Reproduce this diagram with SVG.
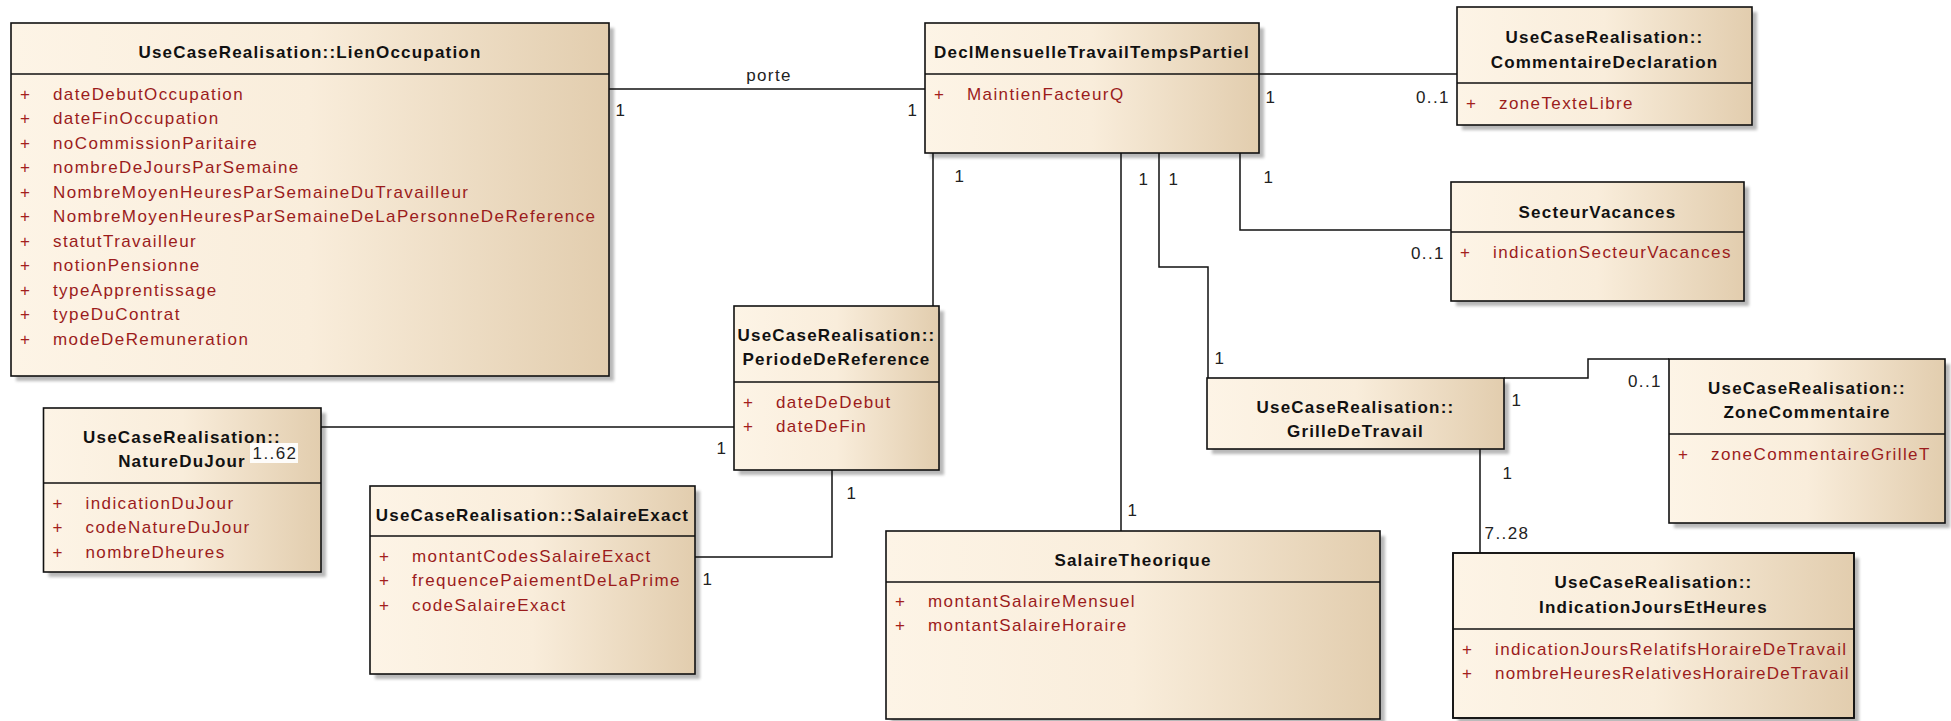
<svg xmlns="http://www.w3.org/2000/svg" width="1951" height="721" viewBox="0 0 1951 721">
<style>
.box{fill:url(#cls);stroke:#111;stroke-width:1.6}
.sh{fill:#b8b8b8;filter:url(#blur)}
.sep{stroke:#111;stroke-width:1.6}
.t{font-family:"Liberation Sans",Arial,sans-serif;font-size:17px;font-weight:bold;fill:#111;text-anchor:middle;letter-spacing:1.2px}
.a{font-family:"Liberation Sans",Arial,sans-serif;font-size:17px;fill:#9b1c1c;letter-spacing:1.4px}
.p{font-family:"Liberation Sans",Arial,sans-serif;font-size:17px;fill:#a3201c;text-anchor:middle}
.m{font-family:"Liberation Sans",Arial,sans-serif;font-size:17px;fill:#222;text-anchor:middle;letter-spacing:1.4px}
.c{fill:none;stroke:#111;stroke-width:1.5}
</style>
<defs>
<linearGradient id="cls" x1="0" y1="0" x2="1" y2="0">
<stop offset="0" stop-color="#fdf4e6"/>
<stop offset="0.5" stop-color="#f9eddb"/>
<stop offset="1" stop-color="#e2cdae"/>
</linearGradient>
<filter id="blur" x="-5%" y="-5%" width="110%" height="110%"><feGaussianBlur stdDeviation="1.5"/></filter>
<clipPath id="clipInd"><rect x="1453" y="553" width="400" height="165"/></clipPath>
</defs>
<rect width="1951" height="721" fill="#fff"/>

<g id="LienOccupation">
<rect class="sh" x="16" y="28" width="598" height="353"/>
<rect class="box" x="11" y="23" width="598" height="353"/>
<line class="sep" x1="11" y1="74" x2="609" y2="74"/>
<text class="t" x="310" y="58">UseCaseRealisation::LienOccupation</text>
<text class="p" x="25" y="99.5">+</text><text class="a" x="53" y="99.5">dateDebutOccupation</text>
<text class="p" x="25" y="124">+</text><text class="a" x="53" y="124">dateFinOccupation</text>
<text class="p" x="25" y="148.5">+</text><text class="a" x="53" y="148.5">noCommissionParitaire</text>
<text class="p" x="25" y="173">+</text><text class="a" x="53" y="173">nombreDeJoursParSemaine</text>
<text class="p" x="25" y="197.5">+</text><text class="a" x="53" y="197.5">NombreMoyenHeuresParSemaineDuTravailleur</text>
<text class="p" x="25" y="222">+</text><text class="a" x="53" y="222">NombreMoyenHeuresParSemaineDeLaPersonneDeReference</text>
<text class="p" x="25" y="246.5">+</text><text class="a" x="53" y="246.5">statutTravailleur</text>
<text class="p" x="25" y="271">+</text><text class="a" x="53" y="271">notionPensionne</text>
<text class="p" x="25" y="295.5">+</text><text class="a" x="53" y="295.5">typeApprentissage</text>
<text class="p" x="25" y="320">+</text><text class="a" x="53" y="320">typeDuContrat</text>
<text class="p" x="25" y="344.5">+</text><text class="a" x="53" y="344.5">modeDeRemuneration</text>
</g>

<g id="DeclMensuelleTravailTempsPartiel">
<rect class="sh" x="930" y="28" width="334" height="130"/>
<rect class="box" x="925" y="23" width="334" height="130"/>
<line class="sep" x1="925" y1="74" x2="1259" y2="74"/>
<text class="t" x="1092" y="58">DeclMensuelleTravailTempsPartiel</text>
<text class="p" x="939" y="99.5">+</text><text class="a" x="967" y="99.5">MaintienFacteurQ</text>
</g>

<g id="CommentaireDeclaration">
<rect class="sh" x="1462" y="12" width="295" height="118"/>
<rect class="box" x="1457" y="7" width="295" height="118"/>
<line class="sep" x1="1457" y1="83" x2="1752" y2="83"/>
<text class="t" x="1604.5" y="43">UseCaseRealisation::</text>
<text class="t" x="1604.5" y="68">CommentaireDeclaration</text>
<text class="p" x="1471" y="108.5">+</text><text class="a" x="1499" y="108.5">zoneTexteLibre</text>
</g>

<g id="SecteurVacances">
<rect class="sh" x="1456" y="187" width="293" height="119"/>
<rect class="box" x="1451" y="182" width="293" height="119"/>
<line class="sep" x1="1451" y1="232" x2="1744" y2="232"/>
<text class="t" x="1597.5" y="217.5">SecteurVacances</text>
<text class="p" x="1465" y="258">+</text><text class="a" x="1493" y="258">indicationSecteurVacances</text>
</g>

<g id="ZoneCommentaire">
<rect class="sh" x="1674" y="364" width="276" height="164"/>
<rect class="box" x="1669" y="359" width="276" height="164"/>
<line class="sep" x1="1669" y1="434" x2="1945" y2="434"/>
<text class="t" x="1807" y="394">UseCaseRealisation::</text>
<text class="t" x="1807" y="418">ZoneCommentaire</text>
<text class="p" x="1683" y="459.5">+</text><text class="a" x="1711" y="459.5">zoneCommentaireGrilleT</text>
</g>

<g id="GrilleDeTravail">
<rect class="sh" x="1212" y="383" width="297" height="71"/>
<rect class="box" x="1207" y="378" width="297" height="71"/>
<text class="t" x="1355.5" y="413">UseCaseRealisation::</text>
<text class="t" x="1355.5" y="437">GrilleDeTravail</text>
</g>

<g id="IndicationJoursEtHeures">
<rect class="sh" x="1458" y="558" width="401" height="165"/>
<rect class="box" x="1453" y="553" width="401" height="165"/>
<line class="sep" x1="1453" y1="629" x2="1854" y2="629"/>
<text class="t" x="1653.5" y="588">UseCaseRealisation::</text>
<text class="t" x="1653.5" y="613">IndicationJoursEtHeures</text>
<g clip-path="url(#clipInd)">
<text class="p" x="1467" y="654.5">+</text><text class="a" x="1495" y="654.5">indicationJoursRelatifsHoraireDeTravail</text>
<text class="p" x="1467" y="679">+</text><text class="a" x="1495" y="679" style="letter-spacing:1.2px">nombreHeuresRelativesHoraireDeTravail</text>
</g>
<rect x="1453" y="553" width="401" height="165" fill="none" stroke="#111" stroke-width="1.6"/>
</g>

<g id="PeriodeDeReference">
<rect class="sh" x="739" y="311" width="205" height="164"/>
<rect class="box" x="734" y="306" width="205" height="164"/>
<line class="sep" x1="734" y1="382" x2="939" y2="382"/>
<text class="t" x="836.5" y="341">UseCaseRealisation::</text>
<text class="t" x="836.5" y="365">PeriodeDeReference</text>
<text class="p" x="748" y="407.5">+</text><text class="a" x="776" y="407.5">dateDeDebut</text>
<text class="p" x="748" y="432">+</text><text class="a" x="776" y="432">dateDeFin</text>
</g>

<g id="NatureDuJour">
<rect class="sh" x="48.5" y="413" width="277.5" height="164"/>
<rect class="box" x="43.5" y="408" width="277.5" height="164"/>
<line class="sep" x1="43.5" y1="483" x2="321" y2="483"/>
<text class="t" x="182" y="443">UseCaseRealisation::</text>
<text class="t" x="182" y="467">NatureDuJour</text>
<text class="p" x="57.5" y="508.5">+</text><text class="a" x="85.5" y="508.5">indicationDuJour</text>
<text class="p" x="57.5" y="533">+</text><text class="a" x="85.5" y="533">codeNatureDuJour</text>
<text class="p" x="57.5" y="557.5">+</text><text class="a" x="85.5" y="557.5">nombreDheures</text>
</g>

<g id="SalaireExact">
<rect class="sh" x="375" y="491" width="325" height="188"/>
<rect class="box" x="370" y="486" width="325" height="188"/>
<line class="sep" x1="370" y1="536" x2="695" y2="536"/>
<text class="t" x="532.5" y="521">UseCaseRealisation::SalaireExact</text>
<text class="p" x="384" y="561.5">+</text><text class="a" x="412" y="561.5">montantCodesSalaireExact</text>
<text class="p" x="384" y="586">+</text><text class="a" x="412" y="586">frequencePaiementDeLaPrime</text>
<text class="p" x="384" y="610.5">+</text><text class="a" x="412" y="610.5">codeSalaireExact</text>
</g>

<g id="SalaireTheorique">
<rect class="sh" x="891" y="536" width="494" height="188"/>
<rect class="box" x="886" y="531" width="494" height="188"/>
<line class="sep" x1="886" y1="582" x2="1380" y2="582"/>
<text class="t" x="1133" y="566">SalaireTheorique</text>
<text class="p" x="900" y="606.5">+</text><text class="a" x="928" y="606.5">montantSalaireMensuel</text>
<text class="p" x="900" y="631">+</text><text class="a" x="928" y="631">montantSalaireHoraire</text>
</g>

<g id="connectors">
<polyline class="c" points="609,89 925,89"/>
<polyline class="c" points="1259,74 1457,74"/>
<polyline class="c" points="1240,153 1240,230 1451,230"/>
<polyline class="c" points="1159,153 1159,267 1208,267 1208,378"/>
<polyline class="c" points="1121,153 1121,531"/>
<polyline class="c" points="933,153 933,306"/>
<polyline class="c" points="321,427 734,427"/>
<polyline class="c" points="695,557 832,557 832,470"/>
<polyline class="c" points="1504,378 1588,378 1588,359 1669,359"/>
<polyline class="c" points="1480,449 1480,553"/>
<text class="m" x="769" y="81">porte</text>
<text class="m" x="621" y="116">1</text>
<text class="m" x="913" y="116">1</text>
<text class="m" x="1271" y="103">1</text>
<text class="m" x="1433" y="103">0..1</text>
<text class="m" x="1269" y="183">1</text>
<text class="m" x="1428" y="259">0..1</text>
<text class="m" x="1174" y="185">1</text>
<text class="m" x="1220" y="364">1</text>
<text class="m" x="1144" y="185">1</text>
<text class="m" x="1133" y="516">1</text>
<text class="m" x="960" y="182">1</text>
<rect x="250" y="443" width="48" height="20" fill="#fff" fill-opacity="0.92"/>
<text class="m" x="275" y="459">1..62</text>
<text class="m" x="722" y="454">1</text>
<text class="m" x="852" y="499">1</text>
<text class="m" x="708" y="585">1</text>
<text class="m" x="1517" y="406">1</text>
<text class="m" x="1645" y="387">0..1</text>
<text class="m" x="1508" y="479">1</text>
<text class="m" x="1507" y="539">7..28</text>
</g>
</svg>
